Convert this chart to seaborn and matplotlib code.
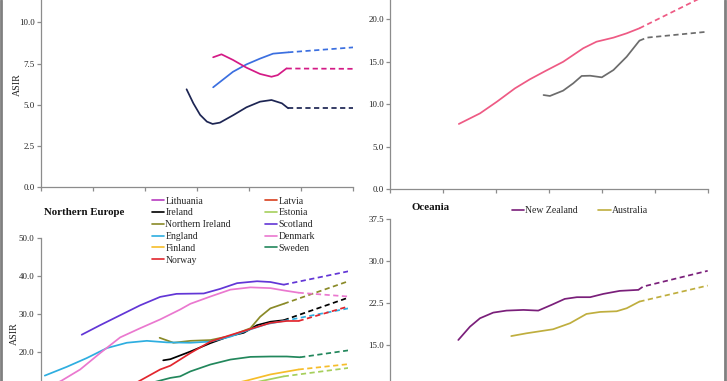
import matplotlib
matplotlib.use("Agg")
import matplotlib.pyplot as plt
from matplotlib.lines import Line2D
import seaborn as sns
import numpy as np

sns.set_theme(style="white")
plt.rcParams['font.family'] = ['Liberation Serif', 'DejaVu Serif']

# ---------------- data ----------------
# top-left panel (region name cut off)
tl_navy_years = [1988.0, 1989.3, 1990.6, 1991.9, 1993.0, 1994.4, 1997.0, 1999.5, 2002.1, 2004.3, 2006.3, 2007.5]
tl_navy_vals = [5.94, 5.09, 4.39, 3.98, 3.84, 3.92, 4.38, 4.85, 5.19, 5.29, 5.09, 4.79]
tl_navy_proj_years = [2007.5, 2020]
tl_navy_proj_vals = [4.78, 4.78]

tl_blue_years = [1993.1, 1996.9, 1999.5, 2002.1, 2004.6, 2007.5]
tl_blue_vals = [6.06, 7.0, 7.45, 7.8, 8.1, 8.18]
tl_blue_proj_years = [2007.5, 2020]
tl_blue_proj_vals = [8.18, 8.48]

tl_mag_years = [1993.1, 1994.7, 1996.9, 1999.5, 2002.1, 2004.3, 2005.5, 2007.2]
tl_mag_vals = [7.88, 8.06, 7.72, 7.25, 6.87, 6.70, 6.80, 7.21]
tl_mag_proj_years = [2007.2, 2020]
tl_mag_proj_vals = [7.20, 7.18]

# top-right panel (region name cut off)
tr_pink_years = [1973.0, 1977.0, 1980.2, 1983.6, 1986.4, 1989.3, 1992.7, 1996.5, 1999.0, 2002.2, 2004.7, 2007.1]
tr_pink_vals = [7.67, 8.92, 10.3, 11.87, 12.93, 13.9, 15.0, 16.6, 17.37, 17.85, 18.36, 18.95]
tr_pink_proj_years = [2007.1, 2020]
tr_pink_proj_vals = [18.95, 22.94]

tr_gray_years = [1989.0, 1990.2, 1992.7, 1994.6, 1996.2, 1997.8, 2000.0, 2002.2, 2004.7, 2007.1]
tr_gray_vals = [11.08, 10.97, 11.6, 12.46, 13.33, 13.36, 13.17, 14.03, 15.6, 17.49]
tr_gray_proj_years = [2007.1, 2008.5, 2020]
tr_gray_proj_vals = [17.49, 17.85, 18.55]

# Northern Europe
ne_countries = ["Lithuania", "Latvia", "Ireland", "Estonia", "Northern Ireland", "Scotland",
                "England", "Denmark", "Finland", "Sweden", "Norway"]
ne_colors = {"Lithuania": "#b83cc0", "Latvia": "#d8401e", "Ireland": "#000000",
             "Estonia": "#a6cf5c", "Northern Ireland": "#8a8a28", "Scotland": "#6236d6",
             "England": "#2eaee0", "Denmark": "#ea78cf", "Finland": "#f6bd2a",
             "Sweden": "#22875c", "Norway": "#e2262e"}
ne_years = {
    "Lithuania": [1993.0, 2000.0, 2007.4],
    "Latvia": [1993.0, 2000.0, 2007.4],
    "Ireland": [1983.9, 1985.3, 1989.2, 1993.1, 1997.0, 1999.6, 2002.2, 2004.8, 2007.4],
    "Estonia": [1998.0, 2003.5, 2007.4],
    "Northern Ireland": [1983.2, 1985.9, 1989.2, 1993.1, 1997.0, 2000.9, 2002.8, 2004.8, 2007.4],
    "Scotland": [1968.0, 1971.6, 1975.5, 1979.4, 1983.3, 1986.5, 1991.8, 1995.0, 1998.3, 2002.2, 2004.8, 2007.4],
    "England": [1960.8, 1965.1, 1969.0, 1972.9, 1976.8, 1980.7, 1984.6, 1989.2, 1993.1, 1997.0, 2000.9, 2004.1, 2007.4],
    "Denmark": [1962.5, 1964.1, 1967.7, 1971.6, 1975.5, 1979.4, 1983.3, 1987.2, 1989.2, 1993.1, 1997.0, 2000.9, 2004.8, 2007.4, 2010.3],
    "Finland": [1995.0, 2000.2, 2004.8, 2010.3],
    "Sweden": [1981.0, 1983.3, 1985.3, 1987.2, 1989.2, 1993.1, 1997.0, 2000.9, 2004.8, 2008.0, 2010.6],
    "Norway": [1977.5, 1979.4, 1983.3, 1985.3, 1989.2, 1993.1, 1997.0, 2000.9, 2004.8, 2008.0, 2010.3],
}
ne_vals = {
    "Lithuania": [7.5, 8.4, 9.3],
    "Latvia": [8.0, 8.8, 9.6],
    "Ireland": [17.9, 18.2, 20.2, 22.4, 24.3, 25.1, 27.1, 28.0, 28.4],
    "Estonia": [11.0, 12.6, 13.7],
    "Northern Ireland": [23.8, 22.5, 23.0, 23.2, 24.3, 26.3, 29.3, 31.5, 32.7],
    "Scotland": [24.6, 27.1, 29.7, 32.3, 34.5, 35.3, 35.4, 36.6, 38.1, 38.6, 38.4, 37.7],
    "England": [13.9, 16.2, 18.5, 21.1, 22.5, 23.0, 22.6, 22.5, 22.8, 24.1, 26.0, 27.4, 28.2],
    "Denmark": [11.5, 12.6, 15.5, 19.8, 23.9, 26.3, 28.6, 31.2, 32.7, 34.6, 36.4, 37.0, 36.8, 36.2, 35.6],
    "Finland": [11.0, 12.6, 14.2, 15.5],
    "Sweden": [11.8, 12.6, 13.3, 13.7, 15.0, 16.8, 18.1, 18.8, 18.9, 18.9, 18.7],
    "Norway": [11.2, 12.6, 15.5, 16.5, 19.8, 22.8, 24.5, 26.1, 27.7, 28.2, 28.2],
}
ne_proj_years = {
    "Lithuania": [2007.4, 2020], "Latvia": [2007.4, 2020], "Ireland": [2007.4, 2020],
    "Estonia": [2007.4, 2020], "Northern Ireland": [2007.4, 2020], "Scotland": [2007.4, 2020],
    "England": [2007.4, 2020], "Denmark": [2010.3, 2020], "Finland": [2010.3, 2020],
    "Sweden": [2010.6, 2020], "Norway": [2010.3, 2020],
}
ne_proj_vals = {
    "Lithuania": [9.3, 10.5], "Latvia": [9.6, 10.8], "Ireland": [28.4, 34.3],
    "Estonia": [13.7, 15.9], "Northern Ireland": [32.7, 38.6], "Scotland": [37.7, 41.2],
    "England": [28.2, 31.5], "Denmark": [35.6, 34.6], "Finland": [15.5, 16.9],
    "Sweden": [18.7, 20.5], "Norway": [28.2, 32.0],
}

# Oceania
oc_countries = ["New Zealand", "Australia"]
oc_colors = {"New Zealand": "#7a1f7a", "Australia": "#bfae3e"}
oc_years = {
    "New Zealand": [1972.9, 1975.1, 1977.0, 1979.5, 1982.0, 1985.2, 1988.0, 1990.5, 1993.0, 1995.3, 1997.8, 2000.3, 2003.4, 2006.9],
    "Australia": [1982.9, 1985.8, 1988.3, 1990.8, 1994.0, 1997.1, 1999.7, 2002.8, 2004.7, 2007.1],
}
oc_vals = {
    "New Zealand": [15.9, 18.28, 19.79, 20.8, 21.16, 21.28, 21.16, 22.18, 23.25, 23.56, 23.56, 24.15, 24.69, 24.87],
    "Australia": [16.6, 17.1, 17.46, 17.82, 18.9, 20.56, 20.92, 21.04, 21.58, 22.77],
}
oc_proj_years = {"New Zealand": [2006.9, 2007.8, 2020], "Australia": [2007.1, 2020]}
oc_proj_vals = {"New Zealand": [24.87, 25.46, 28.28], "Australia": [22.77, 25.64]}

x_ticks = [1960, 1970, 1980, 1990, 2000, 2010, 2020]
tl_yticks = [0.0, 2.5, 5.0, 7.5, 10.0]
tr_yticks = [0.0, 5.0, 10.0, 15.0, 20.0]
bl_yticks = [20.0, 30.0, 40.0, 50.0]
br_yticks = [15.0, 22.5, 30.0, 37.5]

# ---------------- figure ----------------
W, H = 727, 381
fig = plt.figure(figsize=(W / 100, H / 100), dpi=100)

def add_ax(left_px, right_px, top_px, bottom_px):
    return fig.add_axes([left_px / W, (H - bottom_px) / H,
                         (right_px - left_px) / W, (bottom_px - top_px) / H])

SP = "#8c8c8c"
LW = 1.25
DASH = (0, (3, 2))

def style(ax, ymax, yticks):
    ax.set_facecolor("none")
    ax.set_xlim(1960, 2020)
    ax.set_ylim(0, ymax)
    ax.set_xticks(x_ticks)
    ax.set_xticklabels([])
    ax.set_yticks(yticks)
    ax.set_yticklabels([f"{v:.1f}" for v in yticks])
    for s in ["top", "right"]:
        ax.spines[s].set_visible(False)
    for s in ["left", "bottom"]:
        ax.spines[s].set_color(SP)
        ax.spines[s].set_linewidth(0.9)
    ax.tick_params(axis="both", direction="out", length=3, width=0.9, color=SP,
                   labelsize=6.4, pad=1.5, left=True, bottom=True, labelcolor="#222222")
    ax.set_xlabel("")
    ax.set_ylabel("")
    ax.grid(False)

def draw(ax, xs, ys, color, dashed=False):
    sns.lineplot(x=xs, y=ys, ax=ax, color=color, lw=LW, legend=False,
                 linestyle=DASH if dashed else "-", sort=False)

ax_tl = add_ax(40.7, 353.3, 187.3 - 12.5 * 16.5, 187.3)
ax_tr = add_ax(390, 707.7, 189 - 25 * 8.48, 189)
ax_bl = add_ax(40.7, 348.3, 237.7, 237.7 + 50 * 3.82)
ax_br = add_ax(390, 707.7, 219.3, 219.3 + 37.5 * 5.587)

style(ax_tl, 12.5, tl_yticks)
style(ax_tr, 25, tr_yticks)
style(ax_bl, 50, bl_yticks)
style(ax_br, 37.5, br_yticks)

draw(ax_tl, tl_navy_years, tl_navy_vals, "#1d2553")
draw(ax_tl, tl_navy_proj_years, tl_navy_proj_vals, "#1d2553", True)
draw(ax_tl, tl_blue_years, tl_blue_vals, "#3b6fe0")
draw(ax_tl, tl_blue_proj_years, tl_blue_proj_vals, "#3b6fe0", True)
draw(ax_tl, tl_mag_years, tl_mag_vals, "#d41a86")
draw(ax_tl, tl_mag_proj_years, tl_mag_proj_vals, "#d41a86", True)

draw(ax_tr, tr_pink_years, tr_pink_vals, "#ee5a84")
draw(ax_tr, tr_pink_proj_years, tr_pink_proj_vals, "#ee5a84", True)
draw(ax_tr, tr_gray_years, tr_gray_vals, "#6c6c6c")
draw(ax_tr, tr_gray_proj_years, tr_gray_proj_vals, "#6c6c6c", True)

for c in ne_countries:
    draw(ax_bl, ne_years[c], ne_vals[c], ne_colors[c])
    draw(ax_bl, ne_proj_years[c], ne_proj_vals[c], ne_colors[c], True)

for c in oc_countries:
    draw(ax_br, oc_years[c], oc_vals[c], oc_colors[c])
    draw(ax_br, oc_proj_years[c], oc_proj_vals[c], oc_colors[c], True)

# y labels
fig.text(17.5 / W, (H - 85) / H, "ASIR", rotation=90, ha="center", va="center",
         fontsize=7.2, color="#222222")
fig.text(14.2 / W, (H - 333.5) / H, "ASIR", rotation=90, ha="center", va="center",
         fontsize=7.2, color="#222222")

# panel titles
fig.text(44 / W, (H - 212.3) / H, "Northern Europe", fontsize=7.8, fontweight="bold",
         ha="left", va="center", color="#111111")
fig.text(411.7 / W, (H - 207.3) / H, "Oceania", fontsize=7.8, fontweight="bold",
         ha="left", va="center", color="#111111")

# legends
order = ["Lithuania", "Ireland", "Northern Ireland", "England", "Finland", "Norway",
         "Latvia", "Estonia", "Scotland", "Denmark", "Sweden"]
ne_handles = [Line2D([], [], color=ne_colors[c], lw=1.2) for c in order]
fig.legend(ne_handles, order, loc="upper left", bbox_to_anchor=(151.7 / W, (H - 196.5) / H),
           ncol=2, frameon=False, fontsize=7, handlelength=1.25, handletextpad=0.15,
           columnspacing=3.5, labelspacing=0.29, borderpad=0, borderaxespad=0)

oc_handles = [Line2D([], [], color=oc_colors[c], lw=1.2) for c in oc_countries]
fig.legend(oc_handles, oc_countries, loc="upper left", bbox_to_anchor=(511.7 / W, (H - 206) / H),
           ncol=2, frameon=False, fontsize=7, handlelength=1.25, handletextpad=0.15,
           columnspacing=2.1, borderpad=0, borderaxespad=0)

# outer frame lines
fig.add_artist(Line2D([1.3 / W, 1.3 / W], [0, 1], transform=fig.transFigure, color="#808080", lw=2))
fig.add_artist(Line2D([725 / W, 725 / W], [0, 1], transform=fig.transFigure, color="#808080", lw=2))

fig.savefig("out.png", dpi=100)
